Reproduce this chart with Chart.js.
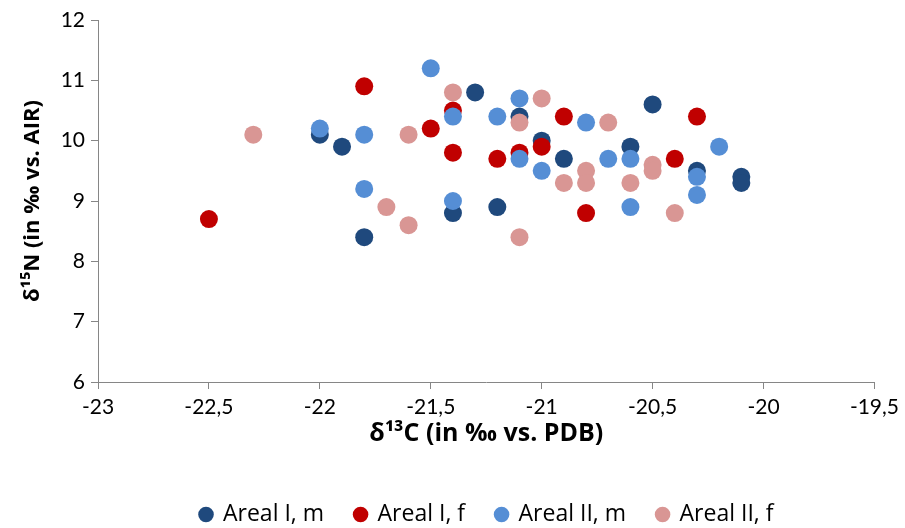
<!DOCTYPE html>
<html>
<head>
<meta charset="utf-8">
<script src="https://cdn.jsdelivr.net/npm/chart.js@4/dist/chart.umd.min.js"></script>
<style>
  body { margin: 0; background: #fff; }
  #wrap { width: 905px; height: 528px; }
</style>
</head>
<body>
<div id="wrap"><canvas id="chartCanvas" width="905" height="528"></canvas></div>
<script>
// series names
const seriesNames = ['Areal I, m', 'Areal I, f', 'Areal II, m', 'Areal II, f'];
const seriesColors = ['#1F497D', '#C00000', '#558ED5', '#D99694'];

// δ13C (x) and δ15N (y) per series
const arealIm_x = [-22.0, -21.9, -21.8, -21.4, -21.3, -21.2, -21.1, -21.0, -20.9, -20.6, -20.5, -20.3, -20.1, -20.1];
const arealIm_y = [10.1, 9.9, 8.4, 8.8, 10.8, 8.9, 10.4, 10.0, 9.7, 9.9, 10.6, 9.5, 9.4, 9.3];

const arealIf_x = [-22.5, -21.8, -21.5, -21.4, -21.4, -21.2, -21.1, -21.0, -20.9, -20.8, -20.4, -20.3];
const arealIf_y = [8.7, 10.9, 10.2, 10.5, 9.8, 9.7, 9.8, 9.9, 10.4, 8.8, 9.7, 10.4];

const arealIIm_x = [-22.0, -21.8, -21.8, -21.5, -21.4, -21.4, -21.2, -21.1, -21.1, -21.0, -20.8, -20.7, -20.6, -20.6, -20.3, -20.3, -20.2];
const arealIIm_y = [10.2, 10.1, 9.2, 11.2, 10.4, 9.0, 10.4, 10.7, 9.7, 9.5, 10.3, 9.7, 9.7, 8.9, 9.4, 9.1, 9.9];

const arealIIf_x = [-22.3, -21.7, -21.6, -21.6, -21.4, -21.1, -21.1, -21.0, -20.9, -20.8, -20.8, -20.7, -20.6, -20.5, -20.5, -20.4];
const arealIIf_y = [10.1, 8.9, 10.1, 8.6, 10.8, 10.3, 8.4, 10.7, 9.3, 9.5, 9.3, 10.3, 9.3, 9.6, 9.5, 8.8];

// axis ranges / ticks
const xTicks = [-23, -22.5, -22, -21.5, -21, -20.5, -20, -19.5];
const yTicks = [6, 7, 8, 9, 10, 11, 12];

const xTitle = 'δ¹³C (in ‰ vs. PDB)';
const yTitle = 'δ¹⁵N (in ‰ vs. AIR)';

function pairs(xs, ys) {
    return xs.map((x, i) => ({ x: x, y: ys[i] }));
}

const allX = [arealIm_x, arealIf_x, arealIIm_x, arealIIf_x];
const allY = [arealIm_y, arealIf_y, arealIIm_y, arealIIf_y];

const datasets = seriesNames.map((name, i) => ({
    label: name,
    data: pairs(allX[i], allY[i]),
    backgroundColor: seriesColors[i],
    borderColor: seriesColors[i],
    borderWidth: 0,
    pointRadius: 9,
    pointHoverRadius: 9,
    order: seriesNames.length - i   // first series drawn underneath
}));

const axisGray = '#868686';
const tickFont = "Lato, 'Open Sans', sans-serif";
const textFont = "'Open Sans', Lato, sans-serif";

// the legend row sits a bit right of where Chart.js centres it
const legendShift = {
    id: 'legendShift',
    afterLayout(chart) {
        chart.legend.left += 48;
        chart.legend.right += 48;
    }
};

const ctx = document.getElementById('chartCanvas').getContext('2d');
new Chart(ctx, {
    type: 'scatter',
    data: { datasets: datasets },
    plugins: [legendShift],
    options: {
        responsive: false,
        animation: false,
        // legend box is 63px tall; a small negative bottom pad drops its text to y~515
        layout: { padding: { left: 0, right: 27, top: 20, bottom: -8 } },
        plugins: {
            tooltip: { enabled: false },
            legend: {
                position: 'bottom',
                labels: {
                    usePointStyle: true,
                    pointStyle: 'circle',
                    boxWidth: 11,
                    boxHeight: 11,
                    padding: 31,
                    color: '#000',
                    font: { family: textFont, size: 23 },
                    sort: (a, b) => a.datasetIndex - b.datasetIndex
                }
            }
        },
        scales: {
            x: {
                type: 'linear',
                min: xTicks[0],
                max: xTicks[xTicks.length - 1],
                afterBuildTicks: (axis) => { axis.ticks = xTicks.map(v => ({ value: v })); },
                afterFit: (axis) => { axis.height = 90; },
                grid: { display: true, drawOnChartArea: false, color: axisGray, tickLength: 7 },
                border: { color: axisGray },
                ticks: {
                    color: '#000',
                    padding: 6,
                    maxRotation: 0,
                    font: { family: tickFont, size: 21 },
                    callback: (v) => String(v).replace('.', ',')
                },
                title: {
                    display: true,
                    text: xTitle,
                    color: '#000',
                    font: { family: textFont, size: 25, weight: 'bold' },
                    padding: { top: 0, bottom: 23 }
                }
            },
            y: {
                type: 'linear',
                min: yTicks[0],
                max: yTicks[yTicks.length - 1],
                afterBuildTicks: (axis) => { axis.ticks = yTicks.map(v => ({ value: v })); },
                afterFit: (axis) => { axis.width = 98; },
                grid: { display: true, drawOnChartArea: false, color: axisGray, tickLength: 7 },
                border: { color: axisGray },
                ticks: {
                    color: '#000',
                    padding: 6,
                    font: { family: tickFont, size: 21 }
                },
                title: {
                    display: true,
                    text: yTitle,
                    color: '#000',
                    font: { family: textFont, size: 22, weight: 'bold' },
                    padding: { top: 20, bottom: 4 }
                }
            }
        }
    }
});
</script>
</body>
</html>
